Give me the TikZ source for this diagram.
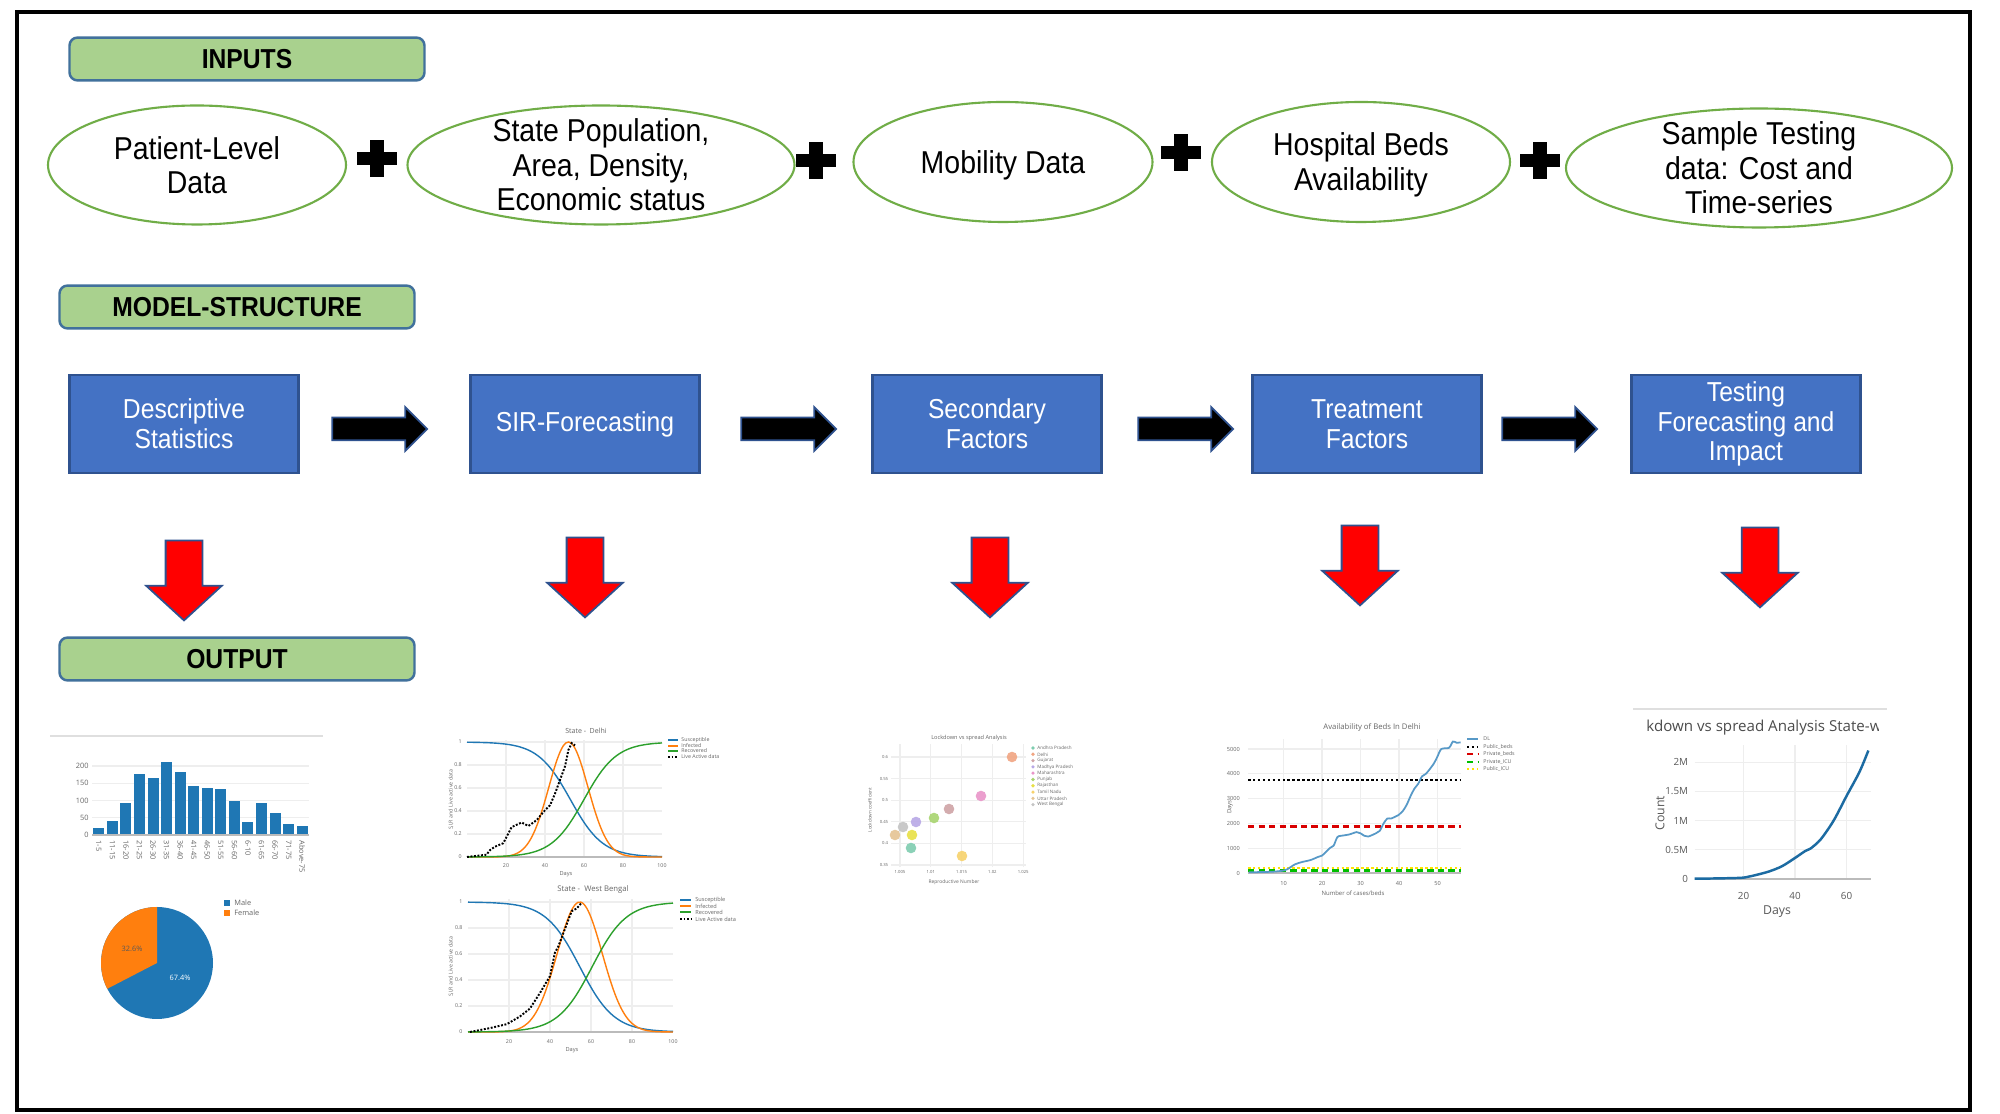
\documentclass[tikz,border=0pt]{standalone}
\usepackage{fontspec}
\setmainfont{Liberation Sans}[FakeStretch=0.9]
\newfontfamily\plotfont{Open Sans}
\usetikzlibrary{shapes.geometric,shapes.arrows}

\definecolor{hdrgreen}{HTML}{A9D18E}
\definecolor{hdrline}{HTML}{41719C}
\definecolor{boxblue}{HTML}{4472C4}
\definecolor{boxline}{HTML}{2F528F}
\definecolor{ellgreen}{HTML}{70AD47}
\definecolor{plblue}{HTML}{1F77B4}
\definecolor{plorange}{HTML}{FF7F0E}
\definecolor{plgreen}{HTML}{2CA02C}
\definecolor{plgrid}{HTML}{EEEEEE}
\definecolor{plaxis}{HTML}{BBBBBB}
\definecolor{pltext}{HTML}{666666}

\tikzset{
  header/.style={draw=hdrline, line width=0.7pt, fill=hdrgreen, rounded corners=0.8mm,
    minimum width=35.5mm, minimum height=4.2mm, font=\fontsize{7.8}{8}\selectfont\bfseries},
  inputell/.style={ellipse, draw=ellgreen, line width=0.6pt, inner sep=0pt},
  elltext/.style={align=center, font=\fontsize{9}{9.8}\selectfont},
  stagebox/.style={draw=boxline, line width=0.6pt, fill=boxblue, text=white, align=center,
    inner ysep=0.5pt, minimum width=22.9mm, minimum height=9.8mm, font=\fontsize{7.8}{8.5}\selectfont},
  nextarrow/.style={single arrow, draw=boxline, fill=black, line width=0.5pt, inner sep=1.05mm,
    minimum height=9.5mm, single arrow head extend=1.05mm, single arrow tip angle=90,
    single arrow head indent=0pt},
  outarrow/.style={single arrow, draw=boxline, fill=red, line width=0.5pt, inner sep=1.75mm,
    minimum height=8mm, single arrow head extend=1.95mm, single arrow tip angle=95, rotate=-90},
  plussign/.pic={\fill (-20,-6.5) rectangle (20,6.5); \fill (-7,-18.5) rectangle (7,18.5);},
  ptext/.style={text=pltext, inner sep=0.2pt, font=\plotfont\fontsize{#1}{#1}\selectfont},
  ptext/.default=1.6,
  gridline/.style={plgrid, line width=0.3pt},
  axisline/.style={plaxis, line width=0.4pt},
  livedata/.style={black, line width=0.55pt, dash pattern=on 0.55pt off 0.45pt},
}

\begin{document}
\begin{tikzpicture}[x=0.1mm, y=-0.1mm]
\useasboundingbox (0,0) rectangle (2000,1114);
\fill[white] (0,0) rectangle (2000,1114);
\draw[line width=1.15pt] (17,12) rectangle (1970,1110);

% inputs
\node[header] (inputs) at (247,59) {INPUTS};
\node[inputell, minimum width=29.8mm, minimum height=11.9mm,
  label={[elltext]center:{Patient-Level\\Data}}] (patient) at (197,165) {};
\node[inputell, minimum width=38.7mm, minimum height=11.9mm,
  label={[elltext]center:{State Population,\\Area, Density,\\Economic status}}] (statepop) at (601,165) {};
\node[inputell, minimum width=29.9mm, minimum height=12mm,
  label={[elltext, yshift=-0.3mm]center:{Mobility Data}}] (mobility) at (1003,162) {};
\node[inputell, minimum width=29.8mm, minimum height=12mm,
  label={[elltext, yshift=-0.3mm]center:{Hospital Beds\\Availability}}] (beds) at (1361,162) {};
\node[inputell, minimum width=38.6mm, minimum height=11.9mm,
  label={[elltext]center:{Sample Testing\\data: Cost and\\Time-series}}] (sampletest) at (1759,168) {};
\pic at (377,159) {plussign};
\pic at (816,161) {plussign};
\pic at (1181,153) {plussign};
\pic at (1540,161) {plussign};

% model structure
\node[header] (model) at (237,307) {MODEL-STRUCTURE};
\node[stagebox] (desc) at (184,424) {Descriptive\\Statistics};
\node[stagebox] (sir) at (585,424) {SIR-Forecasting};
\node[stagebox] (second) at (987,424) {Secondary\\Factors};
\node[stagebox] (treat) at (1367,424) {Treatment\\Factors};
\node[stagebox] (testing) at (1746,424) {Testing\\Forecasting and\\Impact};
\node[nextarrow] (next1) at (374,429) {};
\node[nextarrow] (next2) at (783,429) {};
\node[nextarrow] (next3) at (1180,429) {};
\node[nextarrow] (next4) at (1544,429) {};
\node[outarrow] (out1) at (184,572) {};
\node[outarrow] (out2) at (585,569) {};
\node[outarrow] (out3) at (990,569) {};
\node[outarrow] (out4) at (1360,557) {};
\node[outarrow] (out5) at (1760,559) {};

% output
\node[header] (output) at (237,659) {OUTPUT};

% age histogram
\draw[gray!25, line width=0.3pt] (50,736) -- (323,736);
\begin{scope}[shift={(92,835)}, x=0.1mm, y=0.0345mm]
\foreach \g in {50,100,150,200} \draw[gridline] (0,\g) -- (217,\g);
\foreach \g in {0,50,100,150,200} \node[ptext=2.1, anchor=east] (hy\g) at (-2,\g) {\g};
\foreach \v/\t [count=\i from 0] in {20/1-5,40/11-15,92/16-20,178/21-25,166/26-30,212/31-35,184/36-40,143/41-45,137/46-50,134/51-55,98/56-60,38/6-10,93/61-65,65/66-70,31/71-75,26/Above-75}{
  \fill[plblue] (\i*13.56+1.3,0) rectangle ++(11,\v);
  \node[ptext=2.1, rotate=-90, anchor=west] (hx\i) at (\i*13.56+6.8,-12) {\t};
}
\draw[axisline] (0,0) -- (217,0);
\end{scope}

% gender pie
\fill[plblue] (157,963) circle[radius=56];
\fill[plorange] (157,963) -- ++(-90:56) arc[start angle=-90, end angle=-207.4, radius=56] -- cycle;
\node[ptext=2.1, text=black!65] (female pct) at (132,949) {32.6\%};
\node[ptext=2.1, text=white] (male pct) at (180,978) {67.4\%};
\fill[plblue] (224,900) rectangle ++(6,6);
\node[ptext=2.1, anchor=west] (male) at (233,903) {Male};
\fill[plorange] (224,910) rectangle ++(6,6);
\node[ptext=2.1, anchor=west] (female) at (233,913) {Female};

% SIR Delhi
\begin{scope}[shift={(467,857)}, x=0.195mm, y=11.5mm]
\foreach \g in {0.2,0.4,0.6,0.8,1} \draw[gridline] (0,\g) -- (100,\g);
\foreach \g in {20,40,60,80} \draw[gridline] (\g,0) -- (\g,1.02);
\draw[axisline] (0,0) -- (100,0);
\foreach \g in {0,0.2,0.4,0.6,0.8,1} \node[ptext=1.5, anchor=east] at (-2,\g) {\g};
\foreach \g in {20,40,60,80,100} \node[ptext=1.5, anchor=north] at (\g,-0.05) {\g};
\draw[plblue, line width=0.4pt] plot[domain=0:100, samples=70, smooth] (\x,{1/(1+exp(0.12*(\x-53)))});
\draw[plorange, line width=0.4pt] plot[domain=0:100, samples=70, smooth] (\x,{exp(-(\x-52)*(\x-52)/201.6)});
\draw[plgreen, line width=0.4pt] plot[domain=0:100, samples=70, smooth] (\x,{1/(1+exp(-0.12*(\x-60)))});
\draw[livedata] plot coordinates {(0,0) (10,0.02) (11.8,0.06) (14.4,0.09) (18.6,0.12) (22.9,0.26) (28,0.30) (31.5,0.27) (35.7,0.32) (39.1,0.39) (42.6,0.45) (45.1,0.55) (47.7,0.67) (50.3,0.79) (52,0.93) (53.7,0.99) (55.4,0.97)};
\end{scope}
\node[ptext=2] (delhi title) at (586,731) {State -\ \ Delhi};
\node[ptext=1.6] (delhi days) at (566,874) {Days};
\node[ptext=1.5, rotate=90] (delhi ylab) at (451,800) {S,I,R and Live active data};
\draw[plblue, line width=0.4pt] (668,740) -- (678,740);
\draw[plorange, line width=0.4pt] (668,746) -- (678,746);
\draw[plgreen, line width=0.4pt] (668,751) -- (678,751);
\draw[livedata] (668,757) -- (678,757);
\node[ptext=1.5, anchor=west] (delhi s) at (680,740) {Susceptible};
\node[ptext=1.5, anchor=west] (delhi i) at (680,746) {Infected};
\node[ptext=1.5, anchor=west] (delhi r) at (680,751) {Recovered};
\node[ptext=1.5, anchor=west] (delhi live) at (680,757) {Live Active data};

% SIR West Bengal
\begin{scope}[shift={(468,1032)}, x=0.205mm, y=13mm]
\foreach \g in {0.2,0.4,0.6,0.8,1} \draw[gridline] (0,\g) -- (100,\g);
\foreach \g in {20,40,60,80} \draw[gridline] (\g,0) -- (\g,1.02);
\draw[axisline] (0,0) -- (100,0);
\foreach \g in {0,0.2,0.4,0.6,0.8,1} \node[ptext=1.5, anchor=east] at (-2,\g) {\g};
\foreach \g in {20,40,60,80,100} \node[ptext=1.5, anchor=north] at (\g,-0.05) {\g};
\draw[plblue, line width=0.4pt] plot[domain=0:100, samples=70, smooth] (\x,{1/(1+exp(0.12*(\x-54.6)))});
\draw[plorange, line width=0.4pt] plot[domain=0:100, samples=70, smooth] (\x,{exp(-(\x-54.5)*(\x-54.5)/240)});
\draw[plgreen, line width=0.4pt] plot[domain=0:100, samples=70, smooth] (\x,{1/(1+exp(-0.12*(\x-60.5)))});
\draw[livedata] plot coordinates {(1,0) (10.7,0.03) (18.9,0.06) (25.4,0.12) (30.2,0.18) (35.1,0.30) (40,0.43) (42.4,0.61) (44.1,0.66) (46.5,0.76) (48.9,0.86) (50.6,0.93) (53,0.95) (55.5,0.995)};
\end{scope}
\node[ptext=2.2] (wb title) at (593,889) {State -\ \ West Bengal};
\node[ptext=1.6] (wb days) at (572,1050) {Days};
\node[ptext=1.5, rotate=90] (wb ylab) at (451,967) {S,I,R and Live active data};
\draw[plblue, line width=0.4pt] (680,900) -- (691,900);
\draw[plorange, line width=0.4pt] (680,906) -- (691,906);
\draw[plgreen, line width=0.4pt] (680,912) -- (691,912);
\draw[livedata] (680,919) -- (691,919);
\node[ptext=1.6, anchor=west] (wb s) at (694,900) {Susceptible};
\node[ptext=1.6, anchor=west] (wb i) at (694,906) {Infected};
\node[ptext=1.6, anchor=west] (wb r) at (694,912) {Recovered};
\node[ptext=1.6, anchor=west] (wb live) at (694,919) {Live Active data};

% lockdown scatter
\begin{scope}[shift={(869.2,1016.2)}, x=0.616mm, y=0.432mm]
\foreach \g in {35,40,...,60} \draw[gridline] (3.6,\g) -- (25.5,\g);
\foreach \g in {5,10,...,25} \draw[gridline] (\g,34.5) -- (\g,63);
\foreach \g/\t in {60/0.6,55/0.55,50/0.5,45/0.45,40/0.4,35/0.35} \node[ptext=1.2, anchor=east] at (3.3,\g) {\t};
\foreach \g/\t in {5/1.005,10/1.01,15/1.015,20/1.02,25/1.025} \node[ptext=1.2] at (\g,33.4) {\t};
\end{scope}
\node[ptext=1.6] (scatter title) at (969,738) {Lockdown vs spread Analysis};
\node[ptext=1.4] (scatter xlab) at (954,882) {Reproductive Number};
\node[ptext=1.3, rotate=90] (scatter ylab) at (870,810) {Lockdown coefficient};
\foreach \px/\py/\c in {1012/757/F1A582, 981/796/E995C9, 949/809/CFA3A6, 934/818/A8D46F, 916/822/B8A8E6, 903/827/C4C4C4, 895/835/E5C494, 912/835/E8E045, 911/848/7FCDB0, 962/856/F7D26C}{
  \definecolor{dotc}{HTML}{\c}
  \fill[dotc, opacity=0.9] (\px,\py) circle[radius=5.3];
}
\foreach \c/\t [count=\i from 0] in {7FCDB0/Andhra Pradesh, F1A582/Delhi, CFA3A6/Gujarat, B8A8E6/Madhya Pradesh, E995C9/Maharashtra, A8D46F/Punjab, E8E045/Rajasthan, F7D26C/Tamil Nadu, E5C494/Uttar Pradesh, C4C4C4/West Bengal}{
  \definecolor{dotc}{HTML}{\c}
  \fill[dotc] (1033,748+\i*6.3) circle[radius=1.8];
  \node[ptext=1.3, anchor=west] (st\i) at (1036,748+\i*6.3) {\t};
}

% hospital beds
\begin{scope}[shift={(1245,873)}, x=0.385mm, y=2.48mm]
\foreach \g in {1,2,3,4,5} \draw[gridline] (0.8,\g) -- (56,\g);
\foreach \g in {10,20,30,40,50} \draw[gridline] (\g,0) -- (\g,5.4);
\draw[axisline] (0.8,0) -- (56,0);
\foreach \g in {0,1,2,3,4,5} \node[ptext=1.6, anchor=east] at (-1,\g) {\pgfmathprint{int(\g*1000)}};
\foreach \g in {10,20,30,40,50} \node[ptext=1.6, anchor=north] at (\g,-0.3) {\g};
\draw[yellow!85!orange, line width=0.7pt, dash pattern=on 0.7pt off 0.7pt] (0.8,0.2) -- (56,0.2);
\draw[green!75!black, line width=0.8pt, dash pattern=on 1.8pt off 1.2pt] (0.8,0.1) -- (56,0.1);
\draw[red!85!black, line width=0.8pt, dash pattern=on 1.8pt off 1.2pt] (0.8,1.88) -- (56,1.88);
\draw[black, line width=0.7pt, dash pattern=on 0.7pt off 0.7pt] (0.8,3.75) -- (56,3.75);
\draw[plblue!75, line width=0.5pt] plot[smooth] coordinates {(1,0.03) (5,0.04) (8,0.06) (10,0.1) (11,0.15) (13,0.35) (15,0.45) (17,0.52) (19,0.65) (20,0.7) (22,1.0) (23,1.1) (24,1.45) (25,1.5) (27,1.55) (29,1.65) (30,1.6) (31,1.5) (32,1.47) (34,1.6) (35,1.7) (36,2.0) (37,2.2) (38,2.2) (40,2.35) (41,2.5) (42,2.75) (43,3.1) (44,3.4) (45,3.6) (46,3.9) (47,4.0) (49,4.4) (50,4.7) (51,5.0) (53,5.05) (54,5.3) (55,5.25) (56,5.27)};
\end{scope}
\node[ptext=2.2] (beds title) at (1372,727) {Availability of Beds In Delhi};
\node[ptext=1.7] (beds xlab) at (1353,893) {Number of cases/beds};
\node[ptext=1.7, rotate=90] (beds ylab) at (1230,807) {Days};
\draw[plblue!75, line width=0.5pt] (1467,739) -- (1478,739);
\draw[black, line width=0.7pt, dash pattern=on 0.7pt off 0.7pt] (1467,747) -- (1478,747);
\draw[red!85!black, line width=0.8pt, dash pattern=on 1.8pt off 1.2pt] (1467,754) -- (1478,754);
\draw[green!75!black, line width=0.8pt, dash pattern=on 1.8pt off 1.2pt] (1467,762) -- (1478,762);
\draw[yellow!85!orange, line width=0.7pt, dash pattern=on 0.7pt off 0.7pt] (1467,769) -- (1478,769);
\node[ptext=1.5, anchor=west] (dl) at (1482,739) {DL};
\node[ptext=1.5, anchor=west] (pubbeds) at (1482,747) {Public\_beds};
\node[ptext=1.5, anchor=west] (privbeds) at (1482,754) {Private\_beds};
\node[ptext=1.5, anchor=west] (privicu) at (1482,762) {Private\_ICU};
\node[ptext=1.5, anchor=west] (pubicu) at (1482,769) {Public\_ICU};

% testing forecast
\draw[gray!25, line width=0.3pt] (1633,709) -- (1887,709);
\begin{scope}
\clip (1647,712) rectangle (1878,745);
\node[ptext=4.3, text=black!70, anchor=base west] (test title) at (1645,732) {\llap{Loc}kdown vs spread Analysis State-wise};
\end{scope}
\begin{scope}[shift={(1692,879)}, x=0.2575mm, y=5.84mm]
\foreach \g in {0.5,1,1.5,2} \draw[gridline] (1,\g) -- (69.5,\g);
\foreach \g in {20,40,60} \draw[gridline] (\g,0) -- (\g,2.3);
\draw[axisline, line width=0.6pt] (1,0) -- (69.5,0);
\foreach \g/\t in {0/0,0.5/0.5M,1/1M,1.5/1.5M,2/2M} \node[ptext=2.8, text=black!65, anchor=east] at (-1,\g) {\t};
\foreach \g in {20,40,60} \node[ptext=2.8, text=black!65, anchor=north] at (\g,-0.2) {\g};
\draw[plblue!90!black, line width=0.7pt] plot[smooth] coordinates {(1,0.005) (10,0.01) (19,0.02) (22,0.04) (25,0.07) (30,0.13) (35,0.22) (40,0.36) (44,0.48) (46,0.52) (50,0.68) (55,1.0) (60,1.42) (65,1.83) (68.5,2.2)};
\end{scope}
\node[ptext=3.5, text=black!65] (test days) at (1777,912) {Days};
\node[ptext=3.5, text=black!65, rotate=90] (test count) at (1660,813) {Count};
\end{tikzpicture}
\end{document}
